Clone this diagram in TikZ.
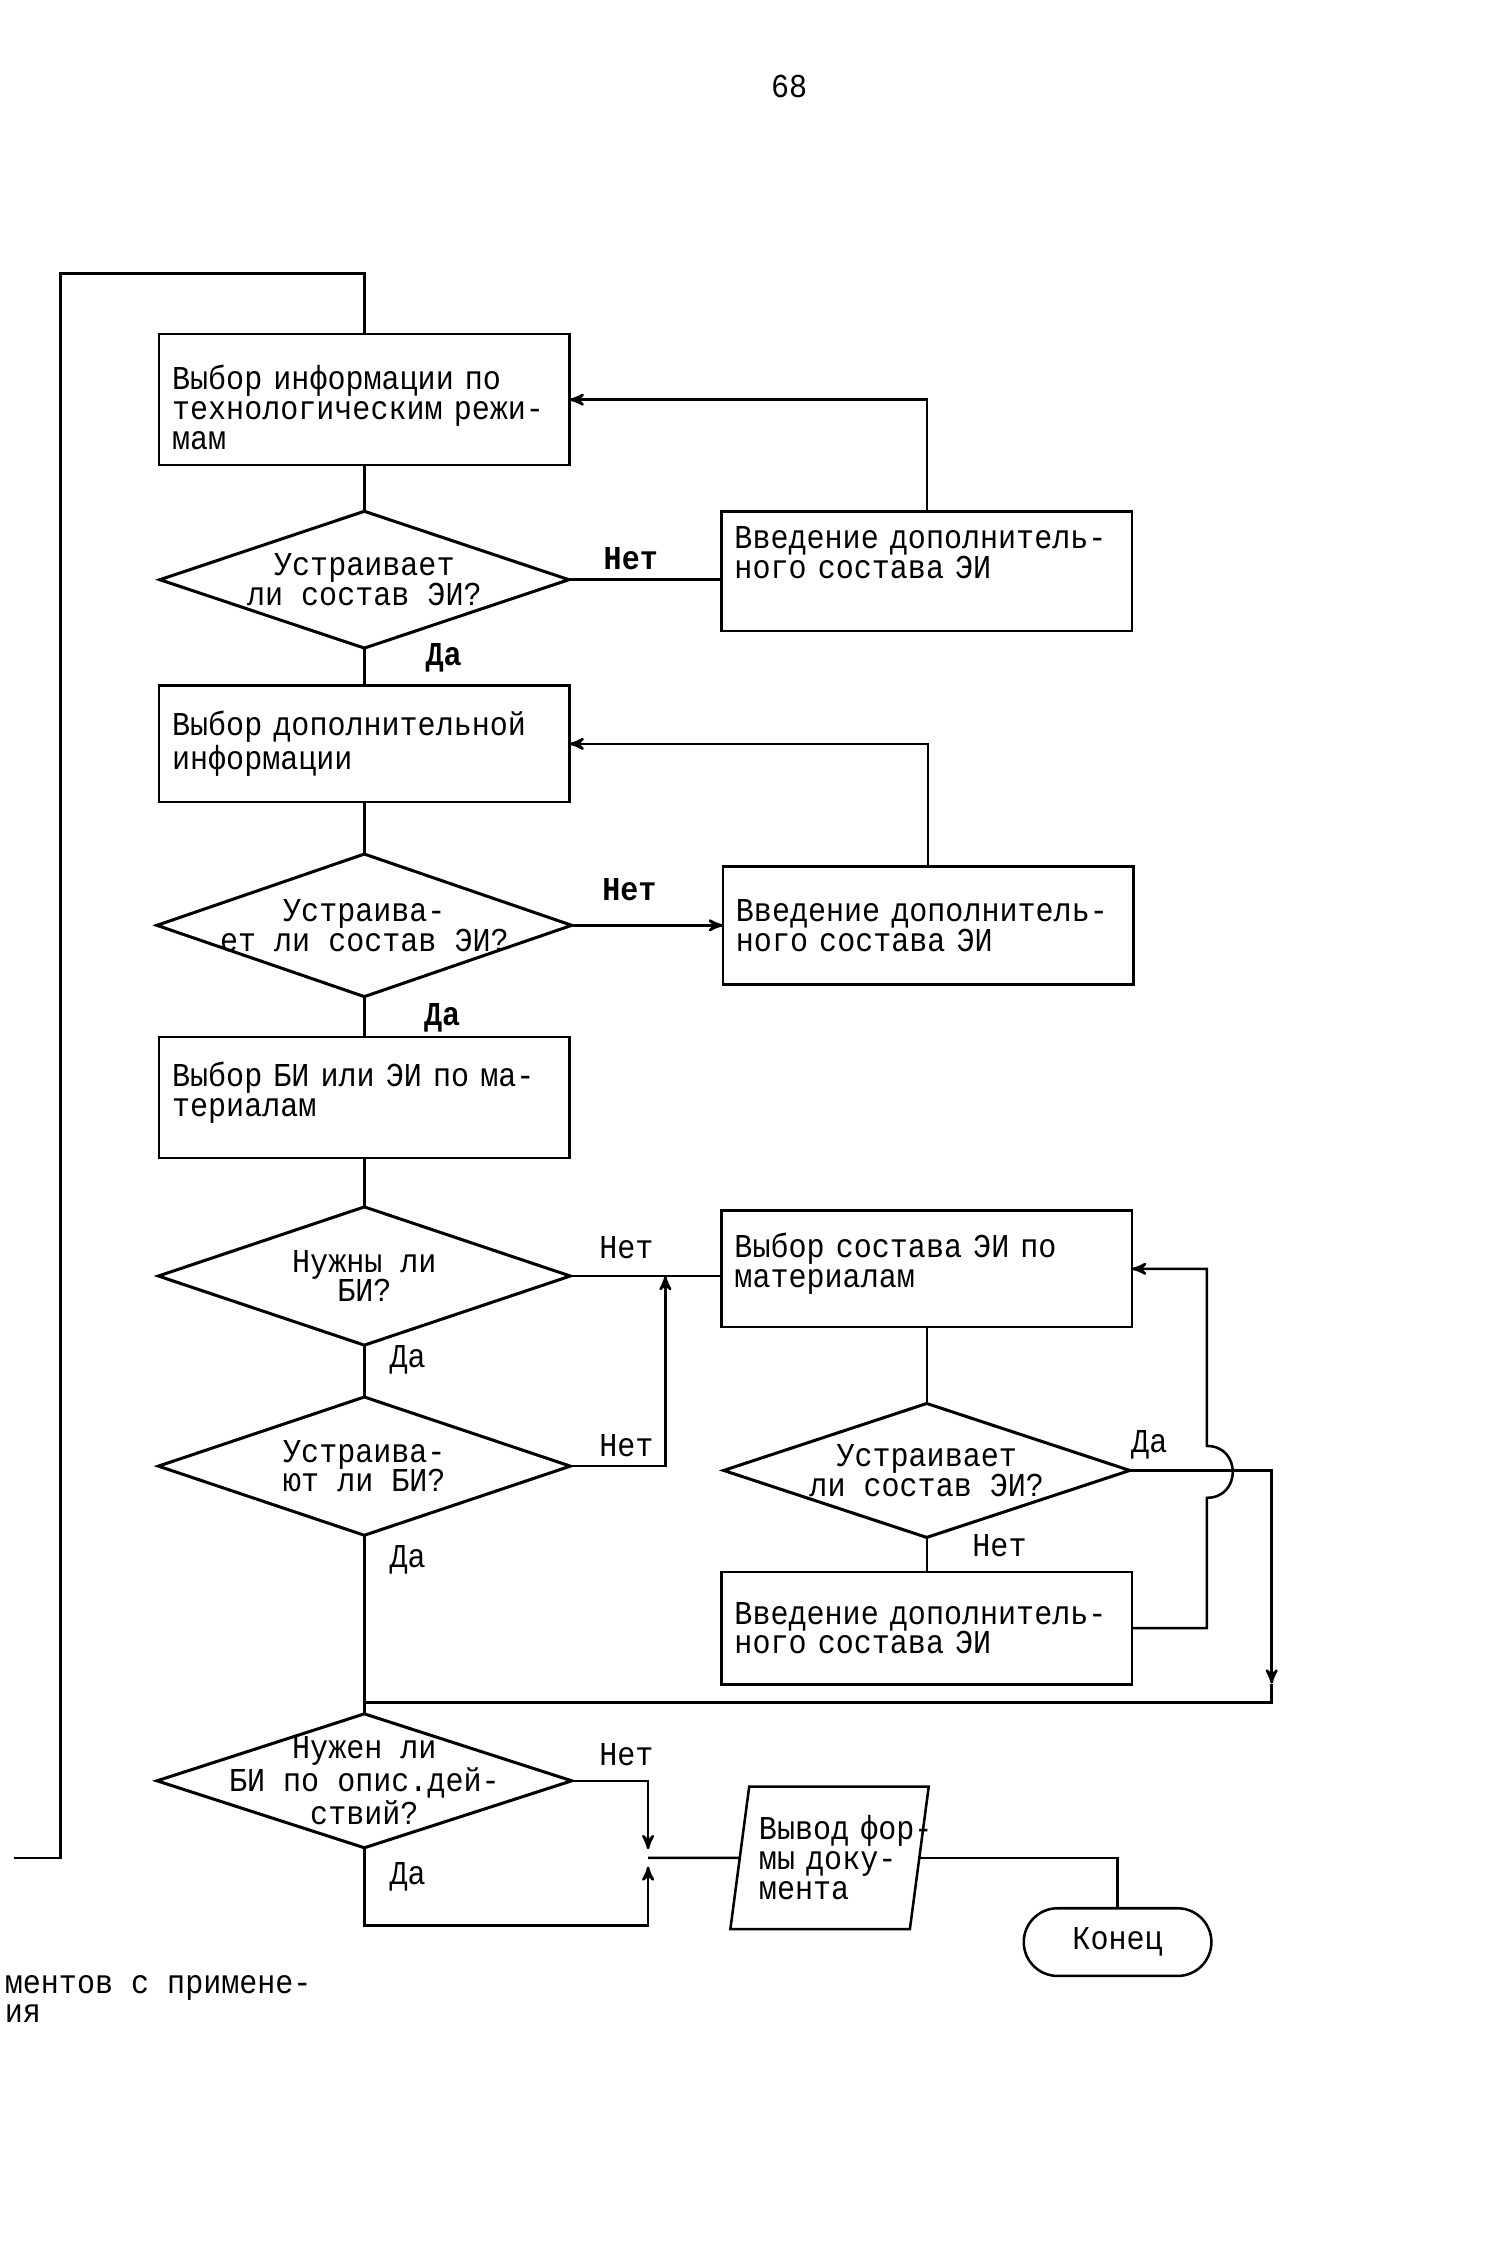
\documentclass[tikz,border=0pt]{standalone}
\usepackage{fontspec}
\newfontfamily\typewr[FakeStretch=0.9]{Liberation Mono}
\newcommand{\twfont}{\typewr\fontsize{13.2}{11.8}\selectfont}
\usetikzlibrary{arrows,shapes,positioning}
\tikzset{
	process/.style={
		rectangle,
		draw,
		line width=1pt,
		text width=53.4mm,
		inner xsep=1.8mm,
		outer sep=0pt,
		minimum height=16.6mm,
		align=left,
		font=\twfont
	},
	decision/.style={
		diamond,
		draw,
		line width=1.2pt,
		minimum width=57.2mm,
		minimum height=19.2mm,
		inner sep=0pt,
		outer sep=0pt
	},
	ioblock/.style={
		trapezium,
		trapezium left angle=80,
		trapezium right angle=100,
		trapezium stretches=true,
		draw,
		line width=1pt,
		text width=19.6mm,
		align=left,
		minimum width=27.6mm,
		minimum height=19.8mm,
		inner xsep=0.5mm,
		inner ysep=1mm,
		outer sep=0pt,
		font=\twfont
	},
	terminator/.style={
		rounded rectangle,
		draw,
		line width=1pt,
		minimum width=28.4mm,
		minimum height=9.4mm,
		outer sep=0pt,
		font=\twfont
	},
	dtext/.style={
		align=center,
		inner sep=0pt,
		font=\twfont
	},
	answer/.style={
		inner sep=0pt,
		font=\twfont
	}
}
\begin{document}
\begin{tikzpicture}[x=1mm,y=-1mm,>=stealth',line width=1pt]
	\useasboundingbox (0,0) rectangle (209,312.6);
	\node [answer] (page) at (109.6,12) {68};
	% main column
	\node [process,minimum height=18.2mm] (a) at (50.6,55.5) {\rule{0pt}{16pt}Выбор информации по\\технологическим режи-\\мам};
	\node [decision,minimum width=56.8mm,minimum height=19mm,label={[dtext]center:Устраивает\\ли состав ЭИ?}] (d1) [below=6.4mm of a] {};
	\node [process,minimum height=16.2mm] (c) [below=5.2mm of d1] {Выбор дополнительной\\информации};
	\node [decision,minimum width=57.6mm,minimum height=19.8mm,label={[dtext]center:Устраива-\\ет ли состав ЭИ?}] (d2) [below=7.2mm of c] {};
	\node [process,minimum height=16.8mm] (e) [below=5.6mm of d2] {Выбор БИ или ЭИ по ма-\\териалам\\[-5pt]\mbox{}};
	\node [decision,label={[dtext]center:Нужны ли\\БИ?}] (d3) [below=6.8mm of e] {};
	\node [decision,label={[dtext]center:Устраива-\\ют ли БИ?}] (d4) [below=7.2mm of d3] {};
	\node [decision,minimum width=57.6mm,minimum height=18.6mm,label={[dtext]center:Нужен ли\\БИ по опис.дей-\\ствий?}] (d5) [below=24.8mm of d4] {};
	% right column
	\node [process] (b1) [right=21.2mm of d1,yshift=1.2mm] {Введение дополнитель-\\ного состава ЭИ\\[3pt]\mbox{}};
	\node [process,minimum height=16.4mm] (b2) [right=21mm of d2] {Введение дополнитель-\\ного состава ЭИ};
	\node [process,minimum height=16.2mm] (f) [right=21mm of d3,yshift=1mm] {Выбор состава ЭИ по\\материалам\\[-5pt]\mbox{}};
	\node [decision,minimum width=56.4mm,minimum height=18.6mm,label={[dtext]center:Устраивает\\ли состав ЭИ?}] (d6) [below=10.6mm of f] {};
	\node [process,minimum height=15.6mm] (g) [below=4.8mm of d6] {Введение дополнитель-\\ного состава ЭИ};
	\node [ioblock] (p) at (115.2,258) {\mbox{Вывод фор-}\\\mbox{мы доку-}\\\mbox{мента}};
	\node [terminator] (end) at (155.2,269.7) {Конец};
	% answers
	\node [answer,font=\twfont\bfseries] (n1) at (87.6,77.6) {Нет};
	\node [answer,font=\twfont\bfseries] (y1) at (61.6,91.4) {Да};
	\node [answer,font=\twfont\bfseries] (n2) at (87.4,123.6) {Нет};
	\node [answer,font=\twfont\bfseries] (y2) at (61.4,141.4) {Да};
	\node [answer] (n3) at (87,173.2) {Нет};
	\node [answer] (y3) at (56.6,188.8) {Да};
	\node [answer] (n4) at (87,200.8) {Нет};
	\node [answer] (y4) at (56.6,216.6) {Да};
	\node [answer] (y6) at (159.6,200.6) {Да};
	\node [answer] (n6) at (138.8,214.6) {Нет};
	\node [answer] (n5) at (87,243.6) {Нет};
	\node [answer] (y5) at (56.6,260.6) {Да};
	\node [answer,anchor=west,align=left] (note) at (0.5,277.6) {ментов с примене-\\ия};
	% bends
	\coordinate (l1) at (2,258);
	\coordinate (l2) at (8.4,38);
	\coordinate (j1) at (92.4,177.2);
	\coordinate (k1) at (167.6,204.4);
	\coordinate (k2) at (176.6,236.4);
	\coordinate (j2) at (90,258);
	\coordinate (j3) at (90,267.4);
	% connectors
	\draw (l1) -| (l2) -- (l2 -| a) -- (a);
	\draw (a) -- (d1);
	\draw (d1) -- (d1 -| b1.west);
	\draw[->] (b1.north) |- (a.east);
	\draw (d1) -- (c);
	\draw (c) -- (d2);
	\draw[->] (d2) -- (b2);
	\draw[->] (b2.north) |- (c.east);
	\draw (d2) -- (e);
	\draw (e) -- (d3);
	\draw (d3) -- (d3 -| f.west);
	\draw (d3) -- (d4);
	\draw[->] (d4) -- (d4 -| j1) -- (j1);
	\draw (d4) -- (d5);
	\draw (f) -- (d6);
	\draw (d6) -- (g);
	\draw[->] (g.east) -| ([yshift=-3.6mm]k1) .. controls ([shift={(4.8mm,-3.6mm)}]k1) and ([shift={(4.8mm,3.6mm)}]k1) .. ([yshift=3.6mm]k1) |- (f.east);
	\draw[->] (d6) -- (d6 -| k2) -- ([yshift=2.6mm]k2);
	\draw ([yshift=2.6mm]k2) -- (k2) -- (k2 -| d4);
	\draw[->] (d5) -- (d5 -| j2) -- ([yshift=1.2mm]j2);
	\draw[->] (d5) -- (d5 |- j3) -- (j3) -- ([yshift=-1.2mm]j2);
	\draw (j2) -- (p);
	\draw (p) -| (end);
\end{tikzpicture}
\end{document}
